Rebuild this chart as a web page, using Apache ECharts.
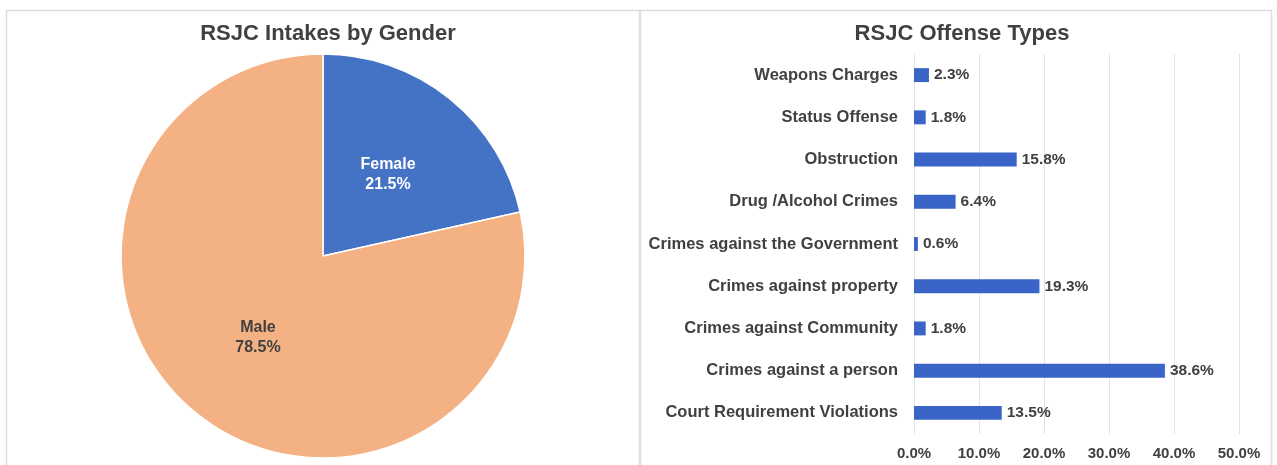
<!DOCTYPE html>
<html><head><meta charset="utf-8">
<script src="https://cdn.jsdelivr.net/npm/echarts@6/dist/echarts.min.js"></script>
<style>html,body{margin:0;padding:0;background:#fff}#c{width:1277px;height:465px}</style>
</head><body><div id="c"></div>
<script>
const genderLabels = ['Female', 'Male'];
const genderValues = [21.5, 78.5];
const offenseCategories = ['Court Requirement Violations','Crimes against a person','Crimes against Community','Crimes against property','Crimes against the Government','Drug /Alcohol Crimes','Obstruction','Status Offense','Weapons Charges'];
const offenseValues = [13.5, 38.6, 1.8, 19.3, 0.6, 6.4, 15.8, 1.8, 2.3];
const pieColors = ['#4472C4', '#F4B183'];
const barColor = '#3B64C8';
const FONT = '"Liberation Sans", Arial, sans-serif';
const TXT = '#404040';

const chart = echarts.init(document.getElementById('c'), null, {renderer:'canvas'});
chart.setOption({
  animation:false,
  textStyle:{fontFamily:FONT},
  graphic:[
    {type:'rect', shape:{x:6.5,y:10.5,width:633,height:460}, style:{fill:null, stroke:'#dedede', lineWidth:1.5}},
    {type:'rect', shape:{x:640.5,y:10.5,width:631,height:460}, style:{fill:null, stroke:'#dedede', lineWidth:1.5}}
  ],
  title:[
    {text:'RSJC Intakes by Gender', left:323, top:18, textAlign:'center',
     textStyle:{fontFamily:FONT, fontSize:22, fontWeight:'bold', color:TXT}},
    {text:'RSJC Offense Types', left:957, top:18, textAlign:'center',
     textStyle:{fontFamily:FONT, fontSize:22, fontWeight:'bold', color:TXT}}
  ],
  grid:{left:914, right:38, top:54, bottom:31, containLabel:false},
  xAxis:{type:'value', min:0, max:50, interval:10,
    axisLine:{show:false}, axisTick:{show:false},
    splitLine:{show:true, lineStyle:{color:'#e4e4e4', width:1}},
    axisLabel:{formatter:v=>v.toFixed(1)+'%', color:TXT, fontFamily:FONT, fontSize:15, fontWeight:'bold', margin:12}},
  yAxis:{type:'category', data:offenseCategories,
    axisLine:{show:false}, axisTick:{show:false},
    axisLabel:{color:TXT, fontFamily:FONT, fontSize:16.5, fontWeight:'bold', margin:16}},
  series:[
    {type:'pie', center:[323,256], radius:202, startAngle:90, clockwise:true,
     data:genderLabels.map((n,i)=>({name:n, value:genderValues[i],
        itemStyle:{color:pieColors[i]},
        label:{color: i===0 ? '#ffffff' : TXT}})),
     itemStyle:{borderColor:'#ffffff', borderWidth:1.5},
     label:{show:true, position:'inside', fontFamily:FONT, fontSize:16, fontWeight:'bold', lineHeight:20,
       formatter:p=>p.name+'\n'+p.value.toFixed(1)+'%'},
     labelLine:{show:false}, emphasis:{disabled:true}},
    {type:'bar', data:offenseValues, barWidth:'33%',
     itemStyle:{color:barColor},
     label:{show:true, position:'right', distance:5, color:TXT, fontFamily:FONT, fontSize:15.5, fontWeight:'bold',
       formatter:p=>p.value.toFixed(1)+'%'}}
  ]
});
</script></body></html>
